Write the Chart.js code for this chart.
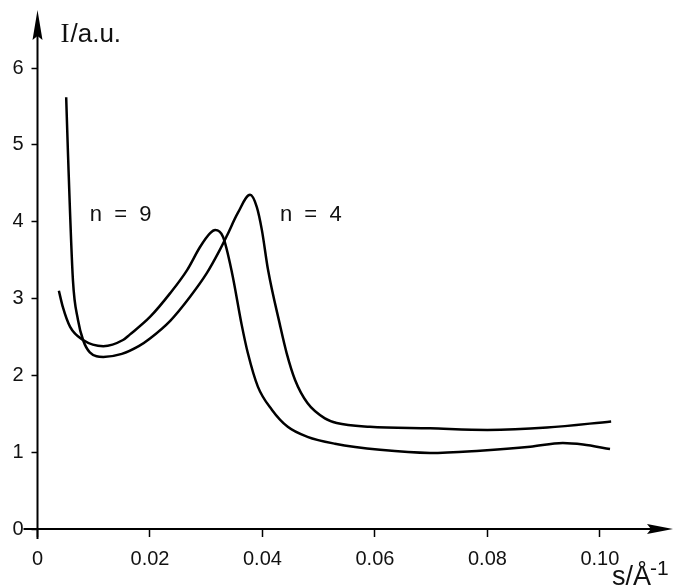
<!DOCTYPE html>
<html>
<head>
<meta charset="utf-8">
<script src="https://cdn.jsdelivr.net/npm/chart.js@4/dist/chart.umd.min.js"></script>
<style>
  html, body { margin: 0; padding: 0; background: #fff; }
  #wrap { width: 674px; height: 586px; }
</style>
</head>
<body>
<div id="wrap"><canvas id="chart" width="674" height="586"></canvas></div>
<script>
// s in 1/Å, intensity in a.u.
const sN9 = [0.0038, 0.0045, 0.0058, 0.0081, 0.0117, 0.0152, 0.0164, 0.020, 0.0236, 0.0266, 0.0289, 0.0307,
             0.0316, 0.0330, 0.0346, 0.0363, 0.0374, 0.0392, 0.0417, 0.0445, 0.0480, 0.0529, 0.0609, 0.0698,
             0.0787, 0.0876, 0.0934, 0.0970, 0.1018];
const iN9 = [3.10, 2.89, 2.63, 2.46, 2.38, 2.46, 2.53, 2.76, 3.07, 3.37, 3.67, 3.85,
             3.89, 3.80, 3.33, 2.66, 2.29, 1.85, 1.55, 1.33, 1.20, 1.11, 1.03, 0.99,
             1.02, 1.07, 1.12, 1.10, 1.04];

const sN4 = [0.0051, 0.0054, 0.0063, 0.0072, 0.0081, 0.0093, 0.0117, 0.0150, 0.0180, 0.020, 0.0236, 0.0271,
             0.0301, 0.0324, 0.0337, 0.0356, 0.0378, 0.0390, 0.0399, 0.0410, 0.0431, 0.0443, 0.0458, 0.0480,
             0.0511, 0.0532, 0.0591, 0.0698, 0.0800, 0.0906, 0.1020];
const iN4 = [5.62, 4.93, 3.24, 2.72, 2.46, 2.30, 2.24, 2.28, 2.38, 2.48, 2.71, 3.02,
             3.33, 3.63, 3.82, 4.11, 4.35, 4.19, 3.89, 3.37, 2.66, 2.29, 1.94, 1.64,
             1.44, 1.38, 1.33, 1.31, 1.29, 1.32, 1.40];

const xTicks = [0, 0.02, 0.04, 0.06, 0.08, 0.10];
const yTicks = [0, 1, 2, 3, 4, 5, 6];
const seriesLabels = ['n = 9', 'n = 4'];
// where the curve names sit, in data units (left edge, middle)
const labelAt = [[0.0093, 4.09], [0.0431, 4.09]];

const tickFont = { family: 'Liberation Sans', size: 20 };

const toPoints = (xs, ys) => xs.map((x, i) => ({ x: x, y: ys[i] }));

const axesPlugin = {
    id: 'axes',
    afterDraw(chart) {
        const ctx = chart.ctx;
        const x = chart.scales.x;
        const y = chart.scales.y;
        const x0 = x.getPixelForValue(0);
        const y0 = y.getPixelForValue(0);
        const right = chart.chartArea.right;
        const top = chart.chartArea.top;

        ctx.save();
        ctx.strokeStyle = '#000';
        ctx.fillStyle = '#000';
        ctx.lineWidth = 2;

        ctx.beginPath();
        ctx.moveTo(x0 - 14, y0);
        ctx.lineTo(right - 20, y0);
        ctx.moveTo(x0, y0 + 10);
        ctx.lineTo(x0, top + 20);
        ctx.stroke();

        // arrow heads
        ctx.beginPath();
        ctx.moveTo(right, y0);
        ctx.lineTo(right - 26, y0 - 5);
        ctx.lineTo(right - 22, y0);
        ctx.lineTo(right - 26, y0 + 5);
        ctx.closePath();
        ctx.fill();

        ctx.beginPath();
        ctx.moveTo(x0, top);
        ctx.lineTo(x0 - 5, top + 30);
        ctx.lineTo(x0, top + 26);
        ctx.lineTo(x0 + 5, top + 30);
        ctx.closePath();
        ctx.fill();

        // axis titles
        ctx.fillStyle = '#111';
        ctx.textBaseline = 'alphabetic';
        ctx.textAlign = 'left';
        ctx.font = '27px "Liberation Serif"';
        ctx.fillText('I', x0 + 23, top + 32);
        const iw = ctx.measureText('I').width;
        ctx.font = '26px "Liberation Sans"';
        ctx.fillText('/a.u.', x0 + 23 + iw + 1, top + 32);

        ctx.font = '27px "Liberation Sans"';
        ctx.fillText('s/Å', 612, 585);
        ctx.font = '21px "Liberation Sans"';
        ctx.fillText('-1', 650, 575);

        // curve names
        ctx.font = '22px "Liberation Sans"';
        ctx.textBaseline = 'middle';
        seriesLabels.forEach((text, i) => {
            const px = x.getPixelForValue(labelAt[i][0]);
            const py = y.getPixelForValue(labelAt[i][1]);
            ctx.fillText(text.replace(' = ', '  =  '), px, py);
        });
        ctx.restore();
    }
};

const lineStyle = {
    showLine: true,
    borderColor: '#000',
    borderWidth: 2.5,
    pointRadius: 0,
    cubicInterpolationMode: 'monotone',
    fill: false
};

const onload = () => {
    new Chart(document.getElementById('chart'), {
        type: 'scatter',
        data: {
            datasets: [
                Object.assign({ label: seriesLabels[0], data: toPoints(sN9, iN9) }, lineStyle),
                Object.assign({ label: seriesLabels[1], data: toPoints(sN4, iN4) }, lineStyle)
            ]
        },
        options: {
            responsive: false,
            animation: false,
            layout: { padding: { top: 10, right: 1, left: 0, bottom: 0 } },
            plugins: {
                legend: { display: false },
                tooltip: { enabled: false }
            },
            scales: {
                x: {
                    type: 'linear',
                    min: 0,
                    max: 0.113,
                    afterBuildTicks: (scale) => { scale.ticks = xTicks.map(v => ({ value: v })); },
                    afterFit: (scale) => {
                        scale.height = 57;
                        scale.paddingLeft = 0;
                        scale.paddingRight = 0;
                    },
                    ticks: {
                        callback: (v) => v === 0 ? '0' : v.toFixed(2),
                        font: tickFont,
                        color: '#111',
                        padding: 10,
                        maxRotation: 0,
                        autoSkip: false
                    },
                    grid: { drawOnChartArea: false, drawTicks: true, tickLength: 8, tickColor: '#000', tickWidth: 1.5 },
                    border: { display: false }
                },
                y: {
                    type: 'linear',
                    min: 0,
                    max: 6.755,
                    afterBuildTicks: (scale) => { scale.ticks = yTicks.map(v => ({ value: v })); },
                    afterFit: (scale) => {
                        scale.width = 37.5;
                        scale.paddingTop = 0;
                        scale.paddingBottom = 0;
                    },
                    ticks: {
                        callback: (v) => String(v),
                        font: tickFont,
                        color: '#111',
                        padding: 8,
                        autoSkip: false
                    },
                    grid: { drawOnChartArea: false, drawTicks: true, tickLength: 6, tickColor: '#000', tickWidth: 1.5 },
                    border: { display: false }
                }
            }
        },
        plugins: [axesPlugin]
    });
};

document.addEventListener('DOMContentLoaded', onload);
</script>
</body>
</html>
